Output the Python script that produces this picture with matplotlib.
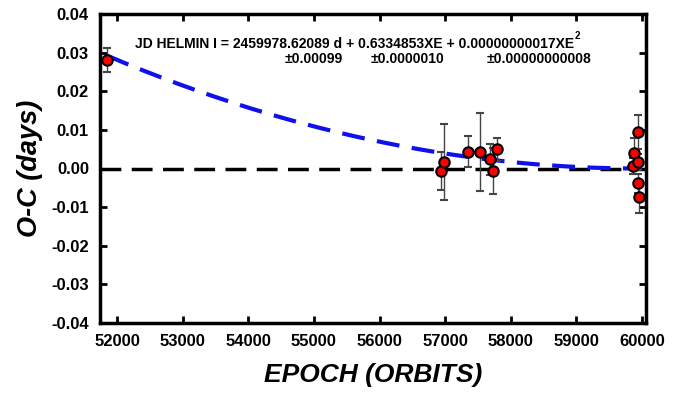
import numpy as np
import matplotlib
matplotlib.use("Agg")
import matplotlib.pyplot as plt
from matplotlib.ticker import FuncFormatter

plt.rcParams['font.family'] = ['Liberation Sans', 'DejaVu Sans']
plt.rcParams['axes.unicode_minus'] = False

# Data
epoch = [51848, 56939, 56985, 57350, 57533, 57686, 57732, 57793,
         59866, 59881, 59942, 59942, 59945, 59948]
oc = [0.0281, -0.0006, 0.0017, 0.0043, 0.0043, 0.0024, -0.0006, 0.0050,
      0.0007, 0.0040, 0.0017, 0.0095, -0.0038, -0.0074]
err = [0.0030, 0.0050, 0.0099, 0.0040, 0.0100, 0.0040, 0.0060, 0.0030,
       0.0020, 0.0040, 0.0020, 0.0044, 0.0025, 0.0040]

# Quadratic fit curve coefficients (O-C = c*(E-E0)^2)
fit_c = 4.45e-10
fit_E0 = 59950
fit_range = [51850, 60000]

xticks = [52000, 53000, 54000, 55000, 56000, 57000, 58000, 59000, 60000]
yticks = [-0.04, -0.03, -0.02, -0.01, 0.00, 0.01, 0.02, 0.03, 0.04]

fig = plt.figure(figsize=(6.77, 3.93), dpi=100)
ax = fig.add_axes([100/677, 1 - 323/393, 546/677, 309/393])

ax.axhline(0, color='black', lw=2.5, dashes=(6, 3), zorder=2)

E = np.linspace(fit_range[0], fit_range[1], 300)
ax.plot(E, fit_c * (E - fit_E0) ** 2, color='#1010ee', lw=3, dashes=(5.5, 3), zorder=3)

ax.errorbar(epoch, oc, yerr=err, fmt='o', color='#444444', ecolor='#444444',
            elinewidth=1, capsize=3, capthick=1, markersize=7.5,
            markerfacecolor='red', markeredgecolor='black', markeredgewidth=1.5,
            zorder=4)

ax.set_xlim(51740, 60060)
ax.set_ylim(-0.04, 0.04)
ax.set_xticks(xticks)
ax.set_yticks(yticks)
ax.yaxis.set_major_formatter(FuncFormatter(lambda v, p: f"{v:.2f}".replace("-0.00", "0.00")))
ax.tick_params(direction='in', length=5, width=2, top=True, right=True,
               labelsize=12, pad=8)
for lab in ax.get_xticklabels() + ax.get_yticklabels():
    lab.set_fontweight('bold')
for s in ax.spines.values():
    s.set_linewidth(2.5)

ax.set_xlabel('EPOCH (ORBITS)', fontsize=19, fontweight='bold', style='italic', labelpad=10)
ax.set_ylabel('O-C (days)', fontsize=19.5, fontweight='bold', style='italic', labelpad=6)

t1 = fig.text(135/677, 1 - 44/393, 'JD HELMIN I = 2459978.62089 d + 0.6334853XE + 0.00000000017XE',
              fontsize=10, fontweight='bold', va='center', ha='left')
fig.canvas.draw()
bb = t1.get_window_extent()
fig.text((bb.x1 + 0.5) / 677, (bb.y1 - 4) / 393, '2', fontsize=7, fontweight='bold',
         va='bottom', ha='left')
fig.text(285/677, 1 - 59/393, '±0.00099', fontsize=10, fontweight='bold', va='center', ha='left')
fig.text(371/677, 1 - 59/393, '±0.0000010', fontsize=10, fontweight='bold', va='center', ha='left')
fig.text(487/677, 1 - 59/393, '±0.00000000008', fontsize=10, fontweight='bold', va='center', ha='left')

fig.savefig('out.png', dpi=100)
